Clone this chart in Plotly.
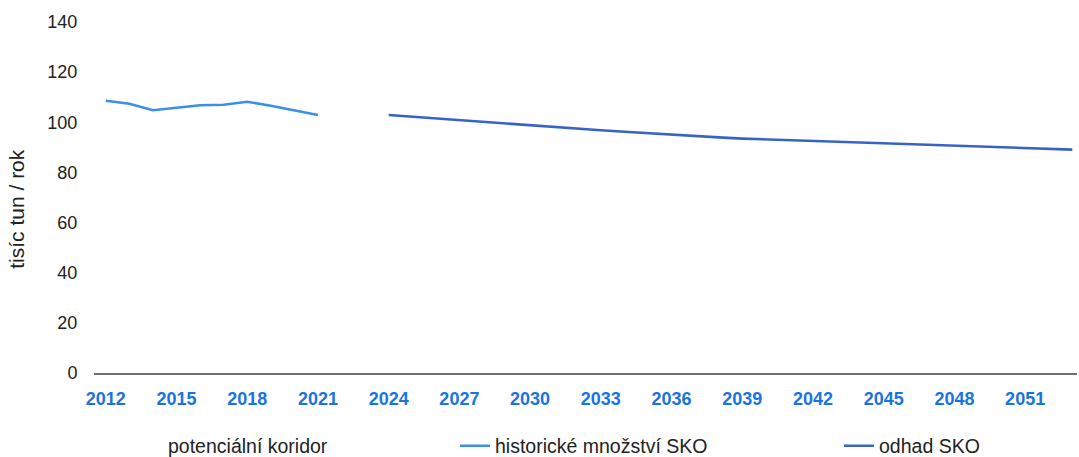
import plotly.graph_objects as go

years_hist = list(range(2012, 2022))
hist_values = [108.6, 107.4, 104.8, 105.8, 106.8, 107.0, 108.2, 106.6, 104.6, 102.9]

years_fcst = list(range(2024, 2054))
fcst_values = [102.9, 102.2, 101.5, 100.8, 100.1, 99.4, 98.7, 98.0, 97.4, 96.8,
               96.2, 95.6, 95.0, 94.5, 94.0, 93.5, 93.2, 92.9, 92.6, 92.3,
               92.0, 91.7, 91.4, 91.1, 90.7, 90.4, 90.1, 89.8, 89.5, 89.1]

corridor_x = [2012, 2013]
corridor_y = [0, 0]

x_ticks = list(range(2012, 2052, 3))
y_ticks = [0, 20, 40, 60, 80, 100, 120, 140]

FONT = "Liberation Sans, Arial, sans-serif"

fig = go.Figure()
fig.add_trace(go.Scatter(
    x=corridor_x, y=corridor_y, name="potenciální koridor", mode="lines",
    line=dict(color="rgba(255,255,255,0)", width=1), legend="legend",
    showlegend=True, hoverinfo="skip"))
fig.add_trace(go.Scatter(
    x=years_hist, y=hist_values, name="historické množství SKO", mode="lines",
    line=dict(color="#3a8fee", width=2.6), legend="legend2", showlegend=True))
fig.add_trace(go.Scatter(
    x=years_fcst, y=fcst_values, name="odhad SKO", mode="lines",
    line=dict(color="#3763c9", width=2.6), legend="legend3", showlegend=True))

L, R = 94, 2
W, H = 1079, 457
T, B = 22, 83.5


def cx(p):
    return p / W


def cy(p):
    return (H - p) / H


leg_common = dict(orientation="h", xanchor="left", yanchor="middle",
                  xref="container", yref="container", visible=True,
                  font=dict(family=FONT, size=19.5, color="#222"),
                  bgcolor="rgba(0,0,0,0)", borderwidth=0)

fig.update_layout(
    width=W, height=H,
    showlegend=True,
    margin=dict(l=L, r=R, t=T, b=B, autoexpand=False),
    paper_bgcolor="white", plot_bgcolor="white",
    font=dict(family=FONT, size=18, color="#222"),
    legend=dict(x=cx(128), y=cy(446), **leg_common),
    legend2=dict(x=cx(455), y=cy(446), **leg_common),
    legend3=dict(x=cx(839), y=cy(446), **leg_common),
    xaxis=dict(
        range=[2011.5, 2053.2], tickmode="array", tickvals=x_ticks,
        ticktext=[str(v) for v in x_ticks],
        tickfont=dict(family=FONT, size=18, color="#1a74e0", weight="bold"),
        showgrid=False, zeroline=False, showline=True, linecolor="#6e6e6e",
        linewidth=2, ticks="outside", ticklen=8, tickcolor="rgba(0,0,0,0)"),
    yaxis=dict(
        range=[0, 140], tickmode="array", tickvals=y_ticks,
        tickfont=dict(family=FONT, size=18, color="#222"),
        showgrid=False, zeroline=False, showline=False,
        ticks="outside", ticklen=12, tickcolor="rgba(0,0,0,0)"),
    annotations=[dict(
        text="tisíc tun / rok", textangle=-90, showarrow=False,
        xref="paper", yref="paper", x=(17 - L) / (W - L - R), y=(H - B - 209) / (H - T - B),
        xanchor="center", yanchor="middle",
        font=dict(family=FONT, size=21, color="#222"))],
)

fig.write_html("out.html")
